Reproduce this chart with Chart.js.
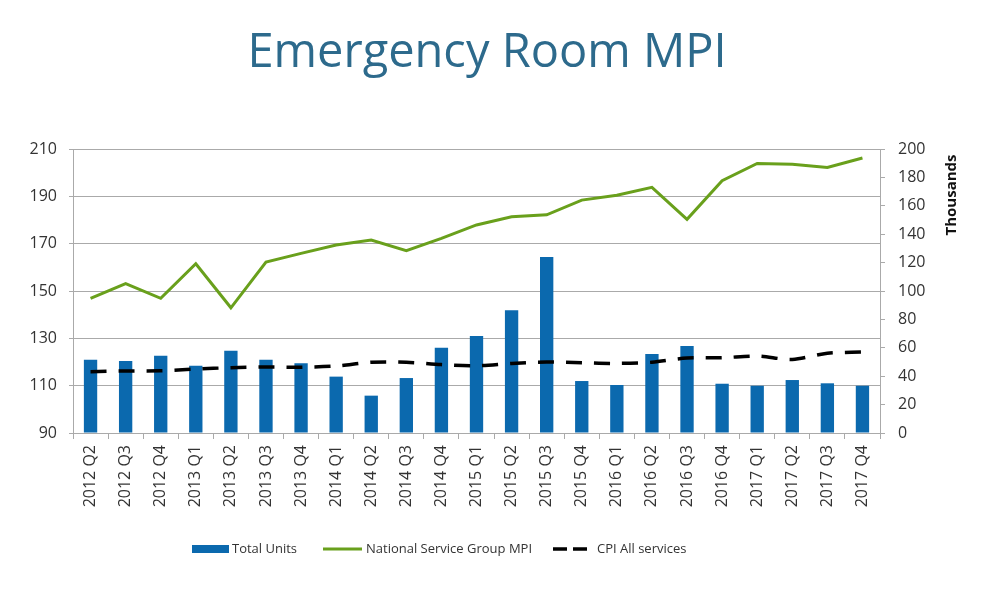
<!DOCTYPE html>
<html lang="en">
<head>
<meta charset="UTF-8">
<title>Emergency Room MPI</title>
<script src="https://cdn.jsdelivr.net/npm/chart.js@4/dist/chart.umd.min.js"></script>
<style>
  html, body { margin: 0; padding: 0; background: #fff; }
  #wrap { width: 1000px; height: 606px; }
</style>
</head>
<body>
<div id="wrap"><canvas id="grafico" width="1000" height="606"></canvas></div>
<script>
  // quarters on the x axis
  const trimestres = [
    '2012 Q2', '2012 Q3', '2012 Q4',
    '2013 Q1', '2013 Q2', '2013 Q3', '2013 Q4',
    '2014 Q1', '2014 Q2', '2014 Q3', '2014 Q4',
    '2015 Q1', '2015 Q2', '2015 Q3', '2015 Q4',
    '2016 Q1', '2016 Q2', '2016 Q3', '2016 Q4',
    '2017 Q1', '2017 Q2', '2017 Q3', '2017 Q4'
  ];
  // Total Units (thousands, right axis)
  const totalUnits = [51.6, 50.7, 54.4, 47.4, 58.0, 51.6, 49.1, 39.7, 26.3, 38.7, 60.1, 68.3,
                      86.4, 123.9, 36.6, 33.8, 55.6, 61.3, 34.7, 33.3, 37.3, 35.0, 33.3];
  // National Service Group MPI (left axis)
  const mpiGrupo = [146.9, 153.1, 146.9, 161.5, 142.9, 162.2, 165.9, 169.4, 171.5, 167.0, 172.2, 177.9,
                    181.4, 182.2, 188.4, 190.5, 193.8, 180.3, 196.6, 203.9, 203.6, 202.2, 206.2];
  // CPI All services (left axis)
  const cpiServicios = [115.9, 116.2, 116.3, 117.0, 117.6, 117.9, 117.8, 118.3, 119.9, 119.9, 118.9, 118.4,
                        119.4, 120.0, 119.7, 119.4, 119.9, 121.7, 121.8, 122.5, 121.1, 123.7, 124.2];

  const azul = '#0b69ae';
  const verde = '#69a01c';
  const texto = '#333333';
  const rejilla = '#aaaaaa';
  const fuente = "'Open Sans', sans-serif";

  // title, "Thousands" and the legend are placed the way the original sheet had them
  const textosFijos = {
    id: 'textosFijos',
    afterDraw(chart) {
      const c = chart.ctx;
      const ds = chart.data.datasets;
      c.save();

      c.font = "47px 'Open Sans', sans-serif";
      c.fillStyle = '#2d6a8c';
      c.textAlign = 'center';
      c.textBaseline = 'alphabetic';
      c.fillText('Emergency Room MPI', 487, 67);

      c.save();
      c.translate(952, 195);
      c.rotate(-Math.PI / 2);
      c.font = "bold 15px 'Open Sans', sans-serif";
      c.fillStyle = '#111';
      c.textBaseline = 'middle';
      c.fillText('Thousands', 0, 0);
      c.restore();

      // leyenda
      const y = 549;
      c.font = "13px 'Open Sans', sans-serif";
      c.fillStyle = texto;
      c.textAlign = 'left';
      c.textBaseline = 'middle';

      c.fillStyle = ds[0].backgroundColor;
      c.fillRect(192, y - 4, 37, 8);
      c.fillStyle = texto;
      c.fillText(ds[0].label, 232, y);

      c.strokeStyle = ds[1].borderColor;
      c.lineWidth = 3;
      c.beginPath(); c.moveTo(323, y); c.lineTo(362, y); c.stroke();
      c.fillText(ds[1].label, 366, y);

      c.strokeStyle = ds[2].borderColor;
      c.lineWidth = 3.5;
      c.setLineDash([14, 6]);
      c.beginPath(); c.moveTo(553, y); c.lineTo(587, y); c.stroke();
      c.setLineDash([]);
      c.fillText(ds[2].label, 597, y);

      c.restore();
    }
  };

  const ctx = document.getElementById('grafico').getContext('2d');
  const grafico = new Chart(ctx, {
    type: 'bar',
    data: {
      labels: trimestres,
      datasets: [
        {
          label: 'Total Units',
          data: totalUnits,
          backgroundColor: azul,
          yAxisID: 'yDer',
          barPercentage: 0.38,
          categoryPercentage: 1,
          order: 3
        },
        {
          type: 'line',
          label: 'National Service Group MPI',
          data: mpiGrupo,
          borderColor: verde,
          backgroundColor: verde,
          borderWidth: 3,
          pointRadius: 0,
          tension: 0,
          yAxisID: 'yIzq',
          order: 2
        },
        {
          type: 'line',
          label: 'CPI All services',
          data: cpiServicios,
          borderColor: '#000000',
          backgroundColor: '#000000',
          borderWidth: 3.5,
          borderDash: [16, 12],
          pointRadius: 0,
          tension: 0.3,
          yAxisID: 'yIzq',
          order: 1
        }
      ]
    },
    plugins: [textosFijos],
    options: {
      responsive: false,
      animation: false,
      layout: { padding: { left: 0, right: 0, top: 149, bottom: 91 } },
      plugins: {
        tooltip: { enabled: false },
        title: { display: false },
        legend: { display: false }
      },
      scales: {
        x: {
          offset: true,
          grid: { offset: true, drawOnChartArea: false, color: rejilla, tickLength: 6 },
          border: { color: rejilla },
          ticks: {
            color: texto,
            font: { family: fuente, size: 16 },
            minRotation: 90,
            maxRotation: 90,
            autoSkip: false,
            padding: 6
          },
          afterFit: (s) => { s.height = 82; }
        },
        yIzq: {
          position: 'left',
          min: 90,
          max: 210,
          ticks: { stepSize: 20, color: texto, font: { family: fuente, size: 16 }, padding: 12 },
          grid: { color: rejilla, tickLength: 4 },
          border: { color: rejilla },
          afterFit: (s) => { s.width = 73; }
        },
        yDer: {
          position: 'right',
          min: 0,
          max: 200,
          ticks: { stepSize: 20, color: texto, font: { family: fuente, size: 16 }, padding: 13 },
          grid: { drawOnChartArea: false, color: rejilla, tickLength: 5 },
          border: { color: rejilla },
          afterFit: (s) => { s.width = 120; }
        }
      }
    }
  });
</script>
</body>
</html>
